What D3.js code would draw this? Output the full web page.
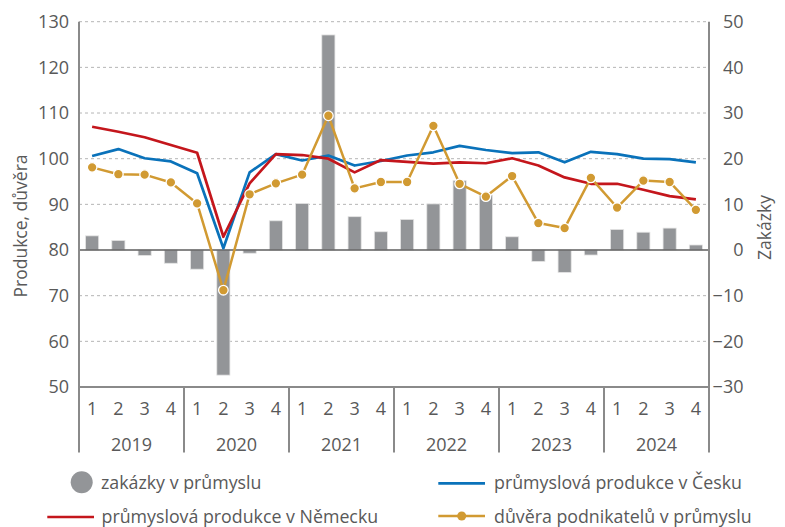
<!DOCTYPE html>
<html>
<head>
<meta charset="utf-8">
<script src="https://cdn.jsdelivr.net/npm/d3@7"></script>
<style>
  body { margin: 0; background: #fff; }
  svg text { font-family: "Open Sans", "Noto Sans", sans-serif; fill: #595959; }
</style>
</head>
<body>
<svg id="chart" width="785" height="527"></svg>
<script>
const years = ["2019", "2020", "2021", "2022", "2023", "2024"];
const quarters = ["1", "2", "3", "4"];
const periods = years.flatMap(y => quarters.map(q => y + "Q" + q));

// zakázky v průmyslu (right axis)
const zakazky = [3.1, 2.1, -1.2, -2.9, -4.2, -27.4, -0.7, 6.4,
                 10.2, 47.1, 7.3, 4.0, 6.7, 10.1, 15.2, 12.0,
                 2.9, -2.5, -4.9, -1.1, 4.5, 3.9, 4.8, 1.1];
// průmyslová produkce v Česku (left axis)
const cesko = [100.6, 102.1, 100.1, 99.4, 96.8, 80.4, 97.0, 101.0,
               99.6, 100.7, 98.5, 99.5, 100.7, 101.4, 102.8, 101.9,
               101.2, 101.4, 99.2, 101.5, 101.0, 100.0, 99.9, 99.2];
// průmyslová produkce v Německu (left axis)
const nemecko = [107.0, 105.9, 104.7, 103.0, 101.3, 82.9, 94.6, 101.0,
                 100.8, 100.0, 97.0, 99.7, 99.3, 98.9, 99.2, 99.0,
                 100.1, 98.5, 95.9, 94.5, 94.5, 93.2, 91.8, 91.1];
// důvěra podnikatelů v průmyslu (left axis)
const duvera = [98.1, 96.6, 96.5, 94.8, 90.2, 71.2, 92.2, 94.6,
                96.5, 109.4, 93.5, 94.9, 94.9, 107.2, 94.5, 91.7,
                96.2, 85.9, 84.8, 95.8, 89.3, 95.2, 94.9, 88.8];

const leftTicks = [50, 60, 70, 80, 90, 100, 110, 120, 130];
const rightTicks = [-30, -20, -10, 0, 10, 20, 30, 40, 50];

const C = { red: "#c4161c", blue: "#0a72ba", gold: "#d19a32", bar: "#939598",
            axis: "#8a8a8a", grid: "#b5b5b5", zero: "#5e5e5e" };

const svg = d3.select("#chart");
const L = 79, R = 709, T = 21.7, B = 387;

const x = d3.scaleBand().domain(periods).range([L, R]);
const yL = d3.scaleLinear().domain([50, 130]).range([B, T]);
const yR = d3.scaleLinear().domain([-30, 50]).range([B, T]);

// grid
svg.append("g").selectAll("line")
  .data(leftTicks.filter(v => v !== 50 && v !== 80))
  .join("line")
  .attr("x1", L).attr("x2", R)
  .attr("y1", d => yL(d)).attr("y2", d => yL(d))
  .attr("stroke", C.grid).attr("stroke-width", 1)
  .attr("stroke-dasharray", "3,3");

// bars
const bw = x.bandwidth() * 0.5;
svg.append("g").selectAll("rect")
  .data(zakazky)
  .join("rect")
  .attr("x", (d, i) => x(periods[i]) + (x.bandwidth() - bw) / 2)
  .attr("width", bw)
  .attr("y", d => yR(Math.max(0, d)))
  .attr("height", d => Math.abs(yR(d) - yR(0)))
  .attr("fill", C.bar)
  .attr("stroke", "#e4e4e4").attr("stroke-width", 0.8);

// zero line
svg.append("line")
  .attr("x1", L).attr("x2", R)
  .attr("y1", yL(80)).attr("y2", yL(80))
  .attr("stroke", C.zero).attr("stroke-width", 1.5);

// axes frame
const frame = svg.append("g").attr("stroke", C.axis).attr("stroke-width", 2);
frame.append("line").attr("x1", L).attr("x2", R).attr("y1", B).attr("y2", B);
const sepX = [L].concat(years.map((y, k) => x(y + "Q4") + x.bandwidth()));
frame.selectAll(".sep").data(sepX).join("line")
  .attr("x1", d => d).attr("x2", d => d)
  .attr("y1", (d, i) => (i === 0 || i === sepX.length - 1) ? T : B)
  .attr("y2", 452.5);

// left axis labels
const axL = svg.append("g").attr("transform", `translate(${L},0)`)
  .call(d3.axisLeft(yL).tickValues(leftTicks).tickSize(0).tickPadding(10));
axL.select(".domain").remove();
axL.selectAll("text").style("font-size", "18px").attr("fill", "#595959")
  .style("font-family", '"Open Sans", sans-serif');

// right axis labels (right aligned)
const axR = svg.append("g").attr("transform", `translate(743.5,0)`)
  .call(d3.axisLeft(yR).tickValues(rightTicks).tickSize(0).tickPadding(0));
axR.select(".domain").remove();
axR.selectAll("text").style("font-size", "18px").attr("fill", "#595959")
  .style("font-family", '"Open Sans", sans-serif');

// x quarter labels
svg.append("g").selectAll("text")
  .data(periods).join("text")
  .attr("x", d => x(d) + x.bandwidth() / 2)
  .attr("y", 415)
  .attr("text-anchor", "middle")
  .style("font-size", "18px")
  .text(d => d.slice(-1));

// year labels
svg.append("g").selectAll("text")
  .data(years).join("text")
  .attr("x", y => (x(y + "Q1") + x(y + "Q4") + x.bandwidth()) / 2)
  .attr("y", 450.5)
  .attr("text-anchor", "middle")
  .style("font-size", "18px")
  .text(y => y);

// axis titles
svg.append("text")
  .attr("transform", "translate(27,226) rotate(-90)")
  .attr("text-anchor", "middle")
  .style("font-size", "17.5px")
  .text("Produkce, důvěra");
svg.append("text")
  .attr("transform", "translate(771,227.5) rotate(-90)")
  .attr("text-anchor", "middle")
  .style("font-size", "17.5px")
  .text("Zakázky");

// lines
const cx = (i) => x(periods[i]) + x.bandwidth() / 2;
const lineL = d3.line().x((d, i) => cx(i)).y(d => yL(d));
svg.append("path").datum(cesko).attr("d", lineL)
  .attr("fill", "none").attr("stroke", C.blue).attr("stroke-width", 2.7)
  .attr("stroke-linejoin", "round");
svg.append("path").datum(nemecko).attr("d", lineL)
  .attr("fill", "none").attr("stroke", C.red).attr("stroke-width", 2.7)
  .attr("stroke-linejoin", "round");
svg.append("path").datum(duvera).attr("d", lineL)
  .attr("fill", "none").attr("stroke", C.gold).attr("stroke-width", 2.5)
  .attr("stroke-linejoin", "round");
svg.append("g").selectAll("circle")
  .data(duvera).join("circle")
  .attr("cx", (d, i) => cx(i)).attr("cy", d => yL(d))
  .attr("r", 4.8)
  .attr("fill", C.gold).attr("stroke", "#fff").attr("stroke-width", 1.3);

// legend
const lg = svg.append("g").style("font-size", "17.8px");
lg.append("circle").attr("cx", 81.7).attr("cy", 482.3).attr("r", 11).attr("fill", C.bar);
lg.append("text").attr("x", 101).attr("y", 488.5).text("zakázky v průmyslu");
lg.append("line").attr("x1", 47.3).attr("x2", 94).attr("y1", 517).attr("y2", 517)
  .attr("stroke", C.red).attr("stroke-width", 2.7);
lg.append("text").attr("x", 101.5).attr("y", 522.5).text("průmyslová produkce v Německu");
lg.append("line").attr("x1", 438.3).attr("x2", 485).attr("y1", 483.3).attr("y2", 483.3)
  .attr("stroke", C.blue).attr("stroke-width", 2.7);
lg.append("text").attr("x", 494).attr("y", 488.5).text("průmyslová produkce v Česku");
lg.append("line").attr("x1", 438.3).attr("x2", 485).attr("y1", 516).attr("y2", 516)
  .attr("stroke", C.gold).attr("stroke-width", 2.5);
lg.append("circle").attr("cx", 461.7).attr("cy", 516).attr("r", 4.5).attr("fill", C.gold);
lg.append("text").attr("x", 494).attr("y", 522.5).text("důvěra podnikatelů v průmyslu");
</script>
</body>
</html>
